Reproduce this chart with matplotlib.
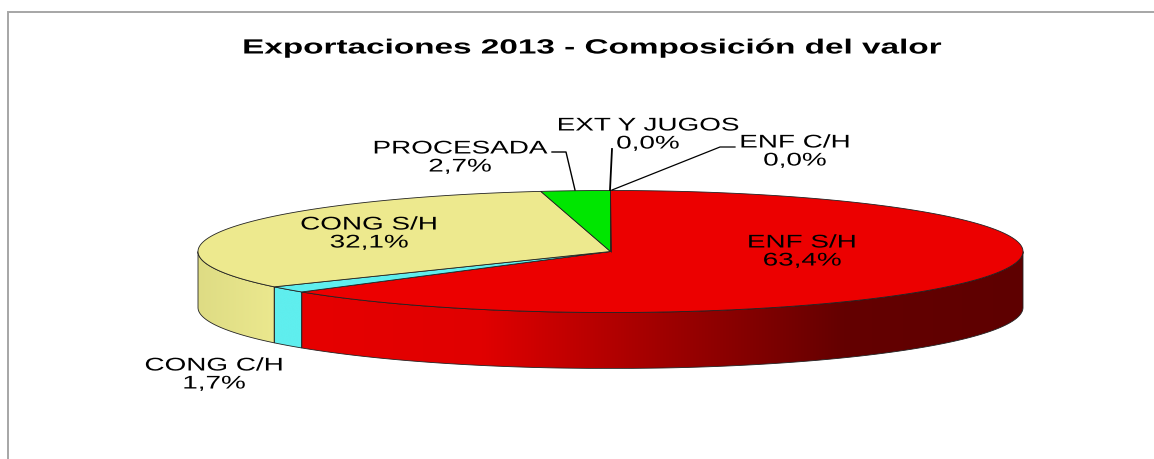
import matplotlib
matplotlib.use("Agg")
import matplotlib.pyplot as plt
import matplotlib.patheffects as pe
from matplotlib.colors import LinearSegmentedColormap
from matplotlib.patches import Polygon
from matplotlib.transforms import Affine2D
import numpy as np

# data (starts at 12 o'clock, clockwise)
categories = ["ENF C/H", "ENF S/H", "CONG C/H", "CONG S/H", "PROCESADA", "EXT Y JUGOS"]
shares = [0.0, 63.4, 1.7, 32.1, 2.7, 0.0]
share_labels = ["0,0%", "63,4%", "1,7%", "32,1%", "2,7%", "0,0%"]
title = "Exportaciones 2013 - Composición del valor"

top_colors = ["#EC0000", "#EC0000", "#5FEEEE", "#EDE98E", "#00E600", "#EDE98E"]
wall_colors = {
    "ENF S/H": ["#E60000", "#E00000", "#A00000", "#640000", "#5E0000"],
    "CONG C/H": ["#5FEEEE", "#5FEEEE"],
    "CONG S/H": ["#DEDC84", "#EBE88E"],
}

# pie geometry in pixels
cx, cy, rx, ry, depth = 610.5, 252.5, 412.5, 61, 56
W, H = 1154, 460


class WideText(pe.AbstractPathEffect):
    # draws text wider around its own anchor, the string stays a normal text
    def __init__(self, x0, sx):
        super().__init__()
        self.x0, self.sx = x0, sx

    def draw_path(self, renderer, gc, tpath, affine, rgbFace=None):
        wide = Affine2D().translate(-self.x0, 0).scale(self.sx, 1).translate(self.x0, 0)
        renderer.draw_path(gc, tpath, affine + wide, rgbFace)


def rim(a1, a2, drop=0):
    t = np.radians(np.linspace(a1, a2, max(int(abs(a2 - a1) * 4), 2)))
    return np.column_stack([cx + rx * np.sin(t), cy - ry * np.cos(t) + drop])


def label(x, y, s, sx, **kw):
    ax.text(x, y, s, ha="center", va="center", color="black", linespacing=1.08,
            family="Liberation Sans", path_effects=[WideText(x, sx)], **kw)


fig = plt.figure(figsize=(W / 100, H / 100), dpi=100)
ax = fig.add_axes([0, 0, 1, 1])
ax.axis("off")

# grey chart border (only top and left are inside the crop)
ax.plot([8, 8, W], [H, 12.5, 12.5], color="#A6A6A6", lw=1.4, solid_joinstyle="miter")

# angles from the values
edges = np.cumsum([0] + shares) / sum(shares) * 360

# side walls, only the front half of the pie shows
for i, name in enumerate(categories):
    a1, a2 = max(edges[i], 90), min(edges[i + 1], 270)
    if a2 <= a1:
        continue
    front = rim(a1, a2)
    back = rim(a2, a1, depth)
    poly = Polygon(np.vstack([front, back]), closed=True, fc="none", ec="none")
    ax.add_patch(poly)
    x1, x2 = np.sort([front[0, 0], front[-1, 0]])
    cmap = LinearSegmentedColormap.from_list(name, wall_colors[name])
    img = ax.imshow(np.linspace(0, 1, 256).reshape(1, -1), cmap=cmap, aspect="auto",
                    extent=[x1, x2, cy + ry + depth, cy - ry], zorder=2)
    img.set_clip_path(poly)
    ax.add_patch(Polygon(np.vstack([front, back]), closed=True, fc="none",
                         ec="#222222", lw=0.6, zorder=3))

# top faces
for i, name in enumerate(categories):
    pts = np.vstack([[cx, cy], rim(edges[i], edges[i + 1])])
    ax.add_patch(Polygon(pts, closed=True, fc=top_colors[i], ec="#222222", lw=0.6,
                         joinstyle="round", zorder=4))

# leader lines
ax.plot([552, 566, 575], [153, 153, 191], color="black", lw=1.0, zorder=5)
ax.plot([612, 610], [150, 191], color="black", lw=1.3, zorder=5)
ax.plot([735, 720, 612], [148, 148, 191], color="black", lw=0.9, zorder=5)

ax.set_xlim(0, W)
ax.set_ylim(H, 0)

# labels
label_pos = [(795, 153), (802, 253), (214, 376), (369, 235), (460, 159), (648, 136)]
for name, pct, (x, y) in zip(categories, share_labels, label_pos):
    label(x, y, name + "\n" + pct, 1.52, fontsize=13.2, zorder=6)
label(591, 49, title, 1.62, fontsize=14.8, fontweight="bold", zorder=6)

fig.savefig("out.png", dpi=100, facecolor="white")
